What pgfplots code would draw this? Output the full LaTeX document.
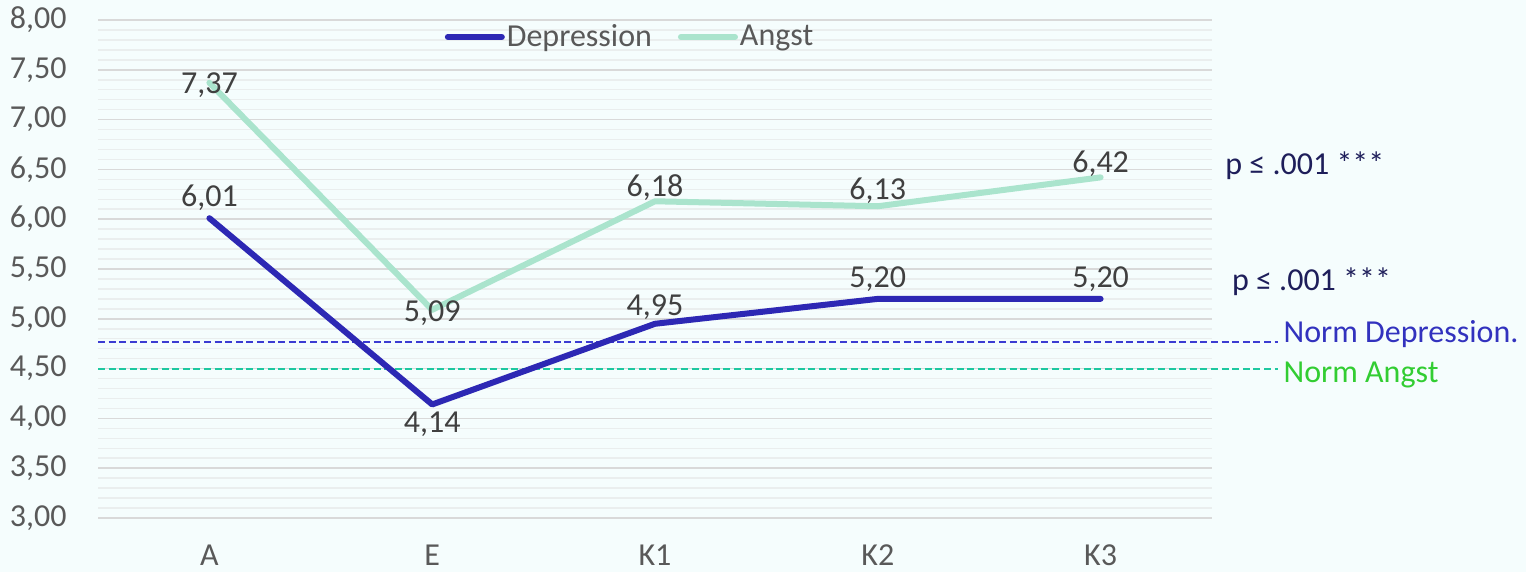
\documentclass[border=0pt]{standalone}
\usepackage{pgfplots}
\pgfplotsset{compat=1.18}
\usepackage{fontspec}
\setmainfont{Carlito}

\definecolor{bgcol}{HTML}{F5FDFD}
\definecolor{majgrid}{HTML}{D9D9D9}
\definecolor{mingrid}{HTML}{EAEEEE}
\definecolor{depcol}{HTML}{2D28B4}
\definecolor{angcol}{HTML}{AAE4CD}
\definecolor{tickgray}{HTML}{595959}
\definecolor{labgray}{HTML}{404040}
\definecolor{depdash}{HTML}{3C3CD2}
\definecolor{angdash}{HTML}{1EC8A0}
\definecolor{deptext}{HTML}{3232BE}
\definecolor{angtext}{HTML}{32CD32}
\definecolor{pcol}{HTML}{1E1E5A}

\newcommand{\lblfont}{\fontsize{16}{19}\selectfont}
\newcommand{\normfont}{\fontsize{16}{19}\selectfont}

\begin{document}
\begin{tikzpicture}[font=\lblfont]
\useasboundingbox (-49pt,-27pt) rectangle (714pt,259pt);
\fill[bgcol] (-49pt,-27pt) rectangle (714pt,259pt);
\begin{axis}[
  at={(0,0)}, anchor=south west,
  scale only axis,
  width=557pt, height=249pt,
  xmin=-0.5, xmax=4.5,
  ymin=3, ymax=8,
  xtick={0,1,2,3,4},
  xticklabels={A,E,K1,K2,K3},
  ytick={3,3.5,...,8},
  minor y tick num=4,
  ymajorgrids, yminorgrids,
  major grid style={majgrid, line width=0.75pt},
  minor grid style={mingrid, line width=0.75pt},
  major tick length=0pt, minor tick length=0pt,
  axis line style={draw=none},
  clip=false,
  tick label style={font=\lblfont, text=tickgray},
  yticklabel style={inner sep=0pt, anchor=east, xshift=-15.5pt},
  xticklabel style={inner sep=0pt, anchor=north, yshift=-13.3pt},
  /pgf/number format/.cd, fixed, fixed zerofill, precision=2, use comma, assume math mode=true,
  /pgfplots/.cd,
  legend style={at={(0.4776,0.966)}, anchor=center, draw=none, fill=none,
    font=\lblfont, text=tickgray,
    /tikz/every even column/.append style={column sep=12pt},
    nodes={inner sep=1pt}},
  legend columns=2,
  legend image code/.code={\draw[#1] (0pt,0pt) -- (27pt,0pt);},
]
% norm reference lines
\addplot[depdash, line width=1pt, dash pattern=on 3.5pt off 1.8pt, forget plot]
  coordinates {(-0.5,4.77) (4.796,4.77)};
\addplot[angdash, line width=1pt, dash pattern=on 3.5pt off 1.8pt, forget plot]
  coordinates {(-0.5,4.50) (4.796,4.50)};

% series
\addplot[depcol, line width=3pt, line cap=round, line join=round]
  coordinates {(0,6.01) (1,4.14) (2,4.95) (3,5.20) (4,5.20)};
\addlegendentry{Depression}
\addplot[angcol, line width=3pt, line cap=round, line join=round]
  coordinates {(0,7.37) (1,5.09) (2,6.18) (3,6.13) (4,6.42)};
\addlegendentry{Angst}

% value labels
\begin{scope}[every node/.style={anchor=base, inner sep=0pt, text=labgray, font=\lblfont}]
\node[yshift=6.0pt]   at (axis cs:0,6.01) {6,01};
\node[yshift=-14.0pt] at (axis cs:1,4.14) {4,14};
\node[yshift=4.1pt]   at (axis cs:2,4.95) {4,95};
\node[yshift=5.9pt]   at (axis cs:3,5.20) {5,20};
\node[yshift=5.9pt]   at (axis cs:4,5.20) {5,20};
\node[yshift=-5.6pt]  at (axis cs:0,7.37) {7,37};
\node[yshift=-5.9pt]  at (axis cs:1,5.09) {5,09};
\node[yshift=2.6pt]   at (axis cs:2,6.18) {6,18};
\node[yshift=3.4pt]   at (axis cs:3,6.13) {6,13};
\node[yshift=2.5pt]   at (axis cs:4,6.42) {6,42};
\end{scope}

% annotations right of the plot
\node[anchor=base west, inner sep=0pt, text=pcol, font=\lblfont] at (axis cs:4.558,6.444) {p ≤ .001 ***};
\node[anchor=base west, inner sep=0pt, text=pcol, font=\lblfont] at (axis cs:4.588,5.289) {p ≤ .001 ***};
\node[anchor=base west, inner sep=0pt, text=deptext, font=\normfont] at (axis cs:4.820,4.760) {Norm Depression.};
\node[anchor=base west, inner sep=0pt, text=angtext, font=\normfont] at (axis cs:4.820,4.358) {Norm Angst};
\end{axis}
\end{tikzpicture}
\end{document}
